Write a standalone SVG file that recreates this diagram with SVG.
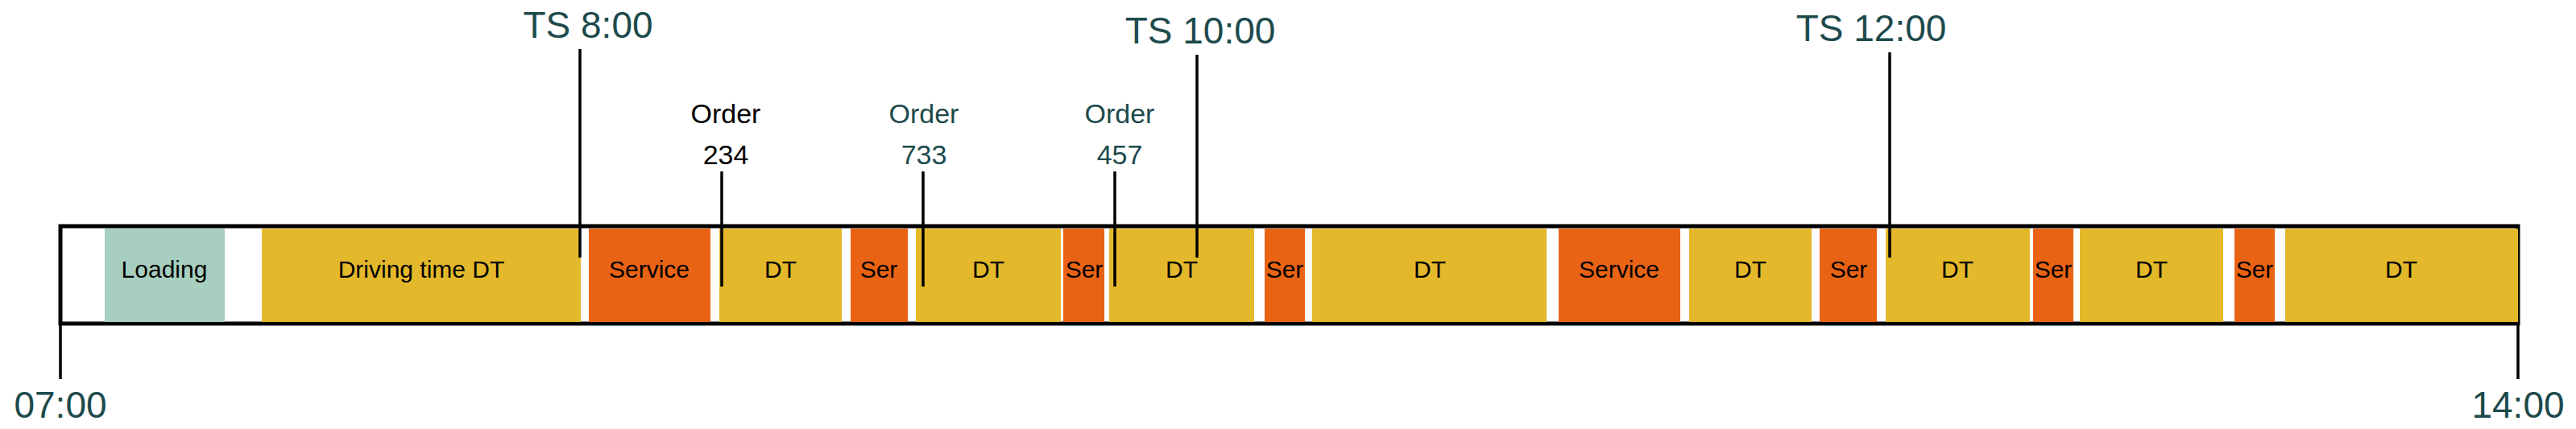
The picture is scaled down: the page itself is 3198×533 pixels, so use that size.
<svg xmlns="http://www.w3.org/2000/svg" width="3198" height="533" viewBox="0 0 3198 533">
<style>
text{font-family:"Liberation Sans",Arial,sans-serif;text-anchor:middle}
.seg{font-size:30px;fill:#000}
.dt{fill:#e4b82b}.sv{fill:#e96314}.ld{fill:#a7cebe}
.ts{font-size:46px;fill:#1d4a4c}
.ord{font-size:34px}
.ln{stroke:#000;stroke-width:3.5;fill:none}
</style>
<g id="bar">
<rect x="75" y="281" width="3051" height="121" fill="#fff" stroke="#000" stroke-width="5"/>
</g>
<g id="segments">
<g id="loading"><rect class="ld" x="130" y="284" width="149" height="116"/><text class="seg" x="204" y="345">Loading</text></g>
<g id="dt1"><rect class="dt" x="325" y="284" width="396" height="116"/><text class="seg" x="523" y="345">Driving time DT</text></g>
<g id="sv1"><rect class="sv" x="731" y="284" width="151" height="116"/><text class="seg" x="806" y="345">Service</text></g>
<g id="dt2"><rect class="dt" x="893" y="284" width="152" height="116"/><text class="seg" x="969" y="345">DT</text></g>
<g id="sv2"><rect class="sv" x="1056" y="284" width="71" height="116"/><text class="seg" x="1091" y="345">Ser</text></g>
<g id="dt3"><rect class="dt" x="1137" y="284" width="180" height="116"/><text class="seg" x="1227" y="345">DT</text></g>
<g id="sv3"><rect class="sv" x="1320" y="284" width="51" height="116"/><text class="seg" x="1346" y="345">Ser</text></g>
<g id="dt4"><rect class="dt" x="1377" y="284" width="180" height="116"/><text class="seg" x="1467" y="345">DT</text></g>
<g id="sv4"><rect class="sv" x="1570" y="284" width="50" height="116"/><text class="seg" x="1595" y="345">Ser</text></g>
<g id="dt5"><rect class="dt" x="1629" y="284" width="291" height="116"/><text class="seg" x="1775" y="345">DT</text></g>
<g id="sv5"><rect class="sv" x="1935" y="284" width="151" height="116"/><text class="seg" x="2010" y="345">Service</text></g>
<g id="dt6"><rect class="dt" x="2097" y="284" width="152" height="116"/><text class="seg" x="2173" y="345">DT</text></g>
<g id="sv6"><rect class="sv" x="2259" y="284" width="71" height="116"/><text class="seg" x="2295" y="345">Ser</text></g>
<g id="dt7"><rect class="dt" x="2341" y="284" width="179" height="116"/><text class="seg" x="2430" y="345">DT</text></g>
<g id="sv7"><rect class="sv" x="2524" y="284" width="50" height="116"/><text class="seg" x="2549" y="345">Ser</text></g>
<g id="dt8"><rect class="dt" x="2582" y="284" width="178" height="116"/><text class="seg" x="2671" y="345">DT</text></g>
<g id="sv8"><rect class="sv" x="2774" y="284" width="50" height="116"/><text class="seg" x="2799" y="345">Ser</text></g>
<g id="dt9"><rect class="dt" x="2837" y="284" width="289" height="116"/><text class="seg" x="2981" y="345">DT</text></g>
</g>
<g id="connectors">
<line class="ln" x1="75" y1="400" x2="75" y2="471"/>
<line class="ln" x1="3126" y1="400" x2="3126" y2="471"/>
<line class="ln" x1="720" y1="61" x2="720" y2="320"/>
<line class="ln" x1="896" y1="213" x2="896" y2="356"/>
<line class="ln" x1="1146" y1="213" x2="1146" y2="356"/>
<line class="ln" x1="1384" y1="213" x2="1384" y2="356"/>
<line class="ln" x1="1486" y1="68" x2="1486" y2="320"/>
<line class="ln" x1="2346" y1="65" x2="2346" y2="320"/>
</g>
<g id="labels">
<text class="ts" x="75" y="519">07:00</text>
<text class="ts" x="3126" y="519">14:00</text>
<text class="ts" x="730" y="47">TS 8:00</text>
<text class="ts" x="1490" y="54">TS 10:00</text>
<text class="ts" x="2323" y="51">TS 12:00</text>
<text class="ord" x="901" y="153" fill="#000">Order</text>
<text class="ord" x="901" y="204" fill="#000">234</text>
<text class="ord" x="1147" y="153" fill="#1d4a4c">Order</text>
<text class="ord" x="1147" y="204" fill="#1d4a4c">733</text>
<text class="ord" x="1390" y="153" fill="#1d4a4c">Order</text>
<text class="ord" x="1390" y="204" fill="#1d4a4c">457</text>
</g>
</svg>
